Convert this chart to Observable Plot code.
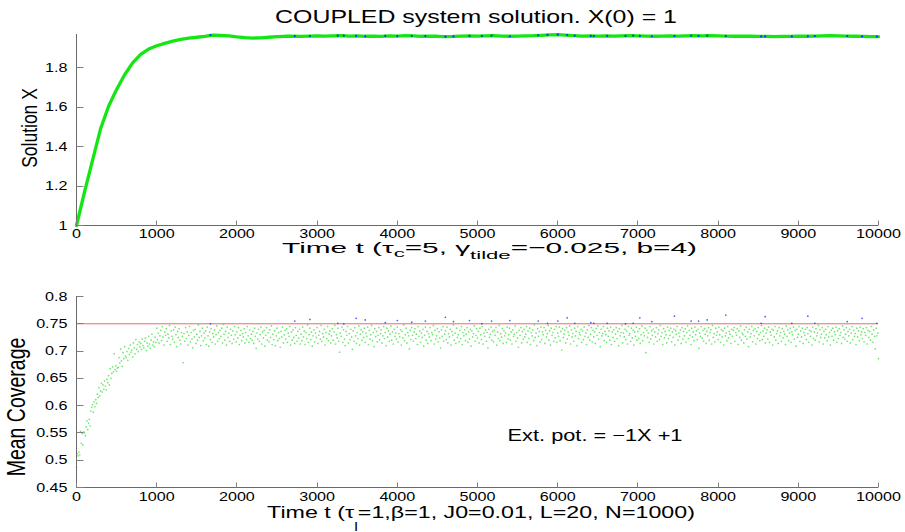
<!DOCTYPE html>
<html><head><meta charset="utf-8">
<script src="https://cdn.jsdelivr.net/npm/d3@7"></script>
<script src="https://cdn.jsdelivr.net/npm/@observablehq/plot@0.6"></script>
<style>body{margin:0;background:#fff}#chart svg{display:block}</style>
</head><body><div id="chart"></div>
<script>
// ---------- data ----------
const xTicks = [0,1000,2000,3000,4000,5000,6000,7000,8000,9000,10000];
const topYTicks = [1,1.2,1.4,1.6,1.8];
const botYTicks = [0.45,0.5,0.55,0.6,0.65,0.7,0.75,0.8];
const tMax = 10000;
const threshold = 0.75;

// solution X(t), sampled every 100 time units
const solutionValues = [
1.000,1.170,1.330,1.490,1.605,1.690,1.765,1.825,1.868,1.895,
1.912,1.924,1.935,1.944,1.951,1.955,1.960,1.966,1.964,1.962,
1.957,1.953,1.951,1.952,1.955,1.958,1.960,1.961,1.959,1.961,
1.962,1.961,1.962,1.963,1.961,1.962,1.960,1.961,1.959,1.962,
1.961,1.963,1.962,1.960,1.961,1.960,1.958,1.959,1.961,1.962,
1.961,1.962,1.963,1.961,1.960,1.961,1.962,1.963,1.965,1.967,
1.968,1.966,1.963,1.961,1.962,1.961,1.962,1.961,1.962,1.963,
1.962,1.961,1.960,1.961,1.962,1.961,1.962,1.963,1.962,1.963,
1.962,1.961,1.960,1.961,1.960,1.959,1.959,1.958,1.959,1.959,
1.960,1.960,1.961,1.962,1.963,1.962,1.961,1.960,1.959,1.958,
1.958];

// mean coverage, evenly sampled from t=0 to t=10000
const coverageValues = [
.487,.512,.508,.515,.51,.553,.531,.549,.528,.552,.55,.545,.561,.572,.556,.568,.575,.563,.59,.597,
.602,.588,.607,.598,.611,.604,.621,.615,.633,.618,.627,.641,.625,.638,.63,.645,.636,.629,.648,.642,
.655,.638,.668,.65,.659,.671,.662,.695,.666,.673,.663,.669,.67,.688,.678,.704,.682,.672,.697,.686,
.708,.691,.688,.699,.683,.705,.694,.711,.698,.702,.689,.715,.706,.695,.721,.703,.712,.699,.717,.708,
.714,.703,.722,.71,.706,.718,.724,.701,.715,.709,.727,.713,.705,.72,.731,.711,.717,.708,.725,.716,
.742,.721,.733,.715,.728,.738,.719,.745,.726,.711,.735,.729,.741,.718,.731,.724,.747,.712,.737,.727,
.722,.739,.716,.744,.73,.708,.736,.725,.741,.72,.713,.734,.727,.679,.732,.718,.743,.723,.735,.711,
.729,.745,.717,.734,.722,.706,.738,.726,.74,.714,.731,.72,.748,.725,.736,.71,.728,.742,.719,.733,
.724,.737,.712,.744,.728,.709,.735,.721,.741,.716,.732,.726,.739,.713,.73,.746,.718,.734,.723,.738,
.727,.742,.715,.749,.731,.72,.736,.711,.744,.725,.733,.718,.74,.729,.714,.737,.722,.745,.73,.717,
.735,.724,.743,.712,.729,.738,.719,.732,.726,.741,.715,.734,.721,.745,.728,.716,.739,.723,.731,.72,
.736,.714,.742,.727,.705,.733,.722,.74,.718,.73,.744,.713,.735,.724,.738,.709,.729,.743,.72,.734,
.717,.739,.725,.746,.712,.731,.721,.737,.71,.728,.742,.719,.734,.723,.707,.736,.726,.744,.715,.73,
.738,.722,.741,.716,.733,.727,.745,.711,.735,.72,.739,.725,.714,.743,.729,.718,.736,.724,.74,.713,
.731,.719,.744,.726,.737,.712,.734,.723,.748,.716,.73,.742,.721,.735,.709,.728,.739,.717,.733,.725,
.743,.714,.729,.736,.722,.747,.718,.732,.726,.74,.711,.734,.723,.745,.719,.731,.737,.715,.728,.741,
.72,.735,.747,.713,.73,.724,.742,.718,.698,.733,.727,.744,.716,.739,.722,.71,.736,.729,.745,.715,
.732,.721,.74,.726,.703,.737,.718,.743,.728,.714,.734,.723,.746,.711,.731,.739,.72,.735,.725,.742,
.716,.733,.727,.744,.712,.738,.722,.73,.747,.719,.734,.708,.741,.726,.736,.717,.729,.743,.721,.732,
.739,.715,.728,.745,.723,.734,.71,.742,.726,.737,.718,.731,.746,.72,.735,.713,.74,.727,.733,.722,
.744,.717,.732,.726,.739,.711,.736,.724,.748,.719,.73,.742,.715,.734,.728,.704,.738,.721,.743,.729,
.718,.735,.741,.723,.731,.712,.745,.727,.737,.716,.733,.725,.74,.709,.729,.744,.72,.736,.714,.732,
.726,.743,.719,.734,.73,.747,.713,.738,.722,.728,.741,.717,.735,.724,.706,.739,.727,.745,.718,.731,
.737,.721,.744,.715,.732,.726,.74,.711,.736,.729,.748,.72,.733,.714,.742,.725,.73,.717,.738,.723,
.745,.712,.734,.728,.739,.719,.731,.743,.716,.735,.722,.74,.709,.737,.726,.732,.746,.718,.729,.741,
.724,.736,.715,.742,.73,.721,.745,.713,.733,.727,.739,.718,.734,.706,.74,.725,.731,.744,.72,.736,
.717,.738,.729,.743,.711,.735,.723,.747,.719,.732,.726,.741,.714,.737,.728,.733,.716,.744,.722,.73,
.742,.72,.735,.713,.739,.727,.731,.746,.718,.734,.724,.707,.738,.729,.743,.715,.736,.722,.74,.726,
.731,.745,.716,.737,.723,.742,.712,.734,.728,.739,.719,.748,.725,.733,.71,.741,.727,.736,.717,.744,
.721,.735,.73,.743,.714,.738,.726,.732,.747,.72,.737,.711,.742,.729,.734,.718,.74,.724,.745,.716,
.733,.727,.744,.719,.736,.702,.741,.725,.731,.738,.715,.743,.722,.735,.729,.746,.713,.739,.726,.732,
.718,.742,.728,.736,.71,.745,.723,.734,.73,.74,.716,.737,.721,.744,.727,.733,.712,.739,.725,.747,
.72,.731,.743,.717,.738,.726,.735,.714,.741,.729,.746,.722,.734,.708,.74,.728,.732,.745,.719,.736,
.73,.716,.742,.727,.737,.72,.744,.712,.735,.725,.739,.718,.731,.743,.723,.736,.71,.741,.728,.734,
.747,.715,.733,.726,.74,.721,.737,.713,.745,.729,.732,.718,.742,.724,.738,.711,.735,.727,.744,.72,
.736,.723,.741,.714,.73,.746,.719,.734,.728,.742,.697,.738,.725,.733,.716,.745,.722,.737,.729,.74,
.713,.735,.726,.743,.718,.732,.739,.721,.747,.727,.734,.712,.741,.724,.736,.73,.715,.744,.723,.738,
.729,.742,.717,.735,.725,.74,.711,.737,.731,.745,.72,.733,.727,.739,.714,.743,.722,.736,.728,.741,
.716,.734,.746,.723,.738,.729,.712,.742,.726,.735,.719,.744,.73,.737,.721,.74,.705,.733,.727,.745,
.724,.738,.718,.741,.731,.714,.736,.728,.743,.72,.734,.739,.713,.747,.725,.732,.717,.742,.729,.735,
.721,.744,.73,.716,.739,.726,.737,.711,.742,.728,.733,.719,.745,.724,.736,.731,.714,.74,.727,.738,
.743,.718,.734,.729,.741,.712,.737,.725,.746,.72,.733,.73,.715,.739,.727,.744,.722,.735,.708,.74,
.726,.732,.745,.717,.738,.728,.741,.713,.736,.723,.743,.73,.719,.734,.747,.721,.737,.727,.742,.715,
.733,.739,.722,.744,.716,.735,.729,.74,.711,.738,.726,.745,.72,.732,.737,.714,.743,.728,.734,.718,
.741,.724,.736,.731,.712,.746,.727,.739,.719,.733,.742,.716,.735,.73,.744,.722,.738,.709,.74,.725,
.731,.745,.718,.737,.726,.742,.714,.734,.729,.74,.721,.743,.732,.716,.738,.727,.736,.711,.744,.723,
.735,.72,.741,.728,.733,.747,.717,.739,.725,.731,.743,.713,.736,.724,.74,.73,.719,.745,.726,.734,
.711,.738,.727,.742,.72,.735,.73,.744,.716,.737,.723,.741,.729,.734,.714,.746,.725,.739,.722,.731,
.743,.718,.736,.728,.74,.715,.733,.745,.721,.738,.727,.732,.712,.742,.726,.737,.719,.744,.73,.735,
.723,.741,.717,.734,.729,.743,.713,.738,.725,.736,.72,.745,.731,.716,.739,.727,.704,.742,.728,.733,
.686];

// samples whose coverage exceeded the threshold (drawn in blue in both panels)
const blueTimes = [1671,2722,2910,3258,3333,3487,3600,3850,4000,4180,4350,4600,4700,4900,5054,5175,5403,5757,5873,6002,6118,6213,6413,6450,6617,6845,6941,7024,7174,7456,7664,7756,7864,8096,8537,8587,8919,9119,9206,9610,9796,9980];
const blueValues = [.750,.755,.758,.751,.750,.760,.757,.752,.756,.753,.755,.762,.754,.756,.750,.755,.756,.755,.751,.755,.761,.751,.752,.751,.751,.750,.751,.761,.754,.764,.755,.755,.757,.766,.751,.763,.751,.764,.751,.754,.760,.751];

const titleText = "COUPLED system solution. X(0) = 1";
const topYLabel = "Solution X";
const botYLabel = "Mean Coverage";
const extPotLabel = "Ext. pot. = \u22121X +1";
const extPotPos = {t: 5375, c: 0.545};

// ---------- build ----------
const solStep = tMax / (solutionValues.length - 1);
const covStep = tMax / (coverageValues.length - 1);
const solution = solutionValues.map((v, i) => ({t: i * solStep, x: v}));
const coverage = coverageValues.map((v, i) => ({t: i * covStep, c: v}));
const blue = blueTimes.map((t, i) => ({t, c: blueValues[i], x: solutionValues[Math.round(t / solStep)]}));

const FONT = "Liberation Sans, Arial, Helvetica, sans-serif";
const GREEN = "#14e614";
const AXIS = "#6a6a6a";
const style = {fontFamily: FONT, fontSize: "12.5px", color: "#000", background: "#fff", overflow: "visible"};
const fmt = d => String(+d.toFixed(2));

const topPlot = Plot.plot({
  width: 905, height: 266, marginLeft: 76, marginRight: 27, marginTop: 34, marginBottom: 41,
  style,
  x: {domain: [0, tMax]},
  y: {domain: [1, 1.969]},
  marks: [
    Plot.axisX(xTicks, {tickSize: 0, tickPadding: 4, tickFormat: fmt, label: null}),
    Plot.axisY(topYTicks, {tickSize: 0, tickPadding: 9, tickFormat: fmt, label: null}),
    Plot.line(solution, {x: "t", y: "x", stroke: GREEN, strokeWidth: 3.3}),
    Plot.dot(blue, {x: "t", y: "x", r: 1.1, fill: "#1030ff", stroke: null}),
    Plot.ruleX([0], {stroke: AXIS}),
    Plot.ruleY([1], {stroke: AXIS})
  ]
});

const botPlot = Plot.plot({
  width: 905, height: 266, marginLeft: 76, marginRight: 27, marginTop: 30, marginBottom: 45,
  style,
  x: {domain: [0, tMax]},
  y: {domain: [0.45, 0.8]},
  marks: [
    Plot.axisX(xTicks, {tickSize: 0, tickPadding: 5, tickFormat: fmt, label: null}),
    Plot.axisY(botYTicks, {tickSize: 0, tickPadding: 9, tickFormat: fmt, label: null}),
    Plot.ruleY([threshold], {stroke: "#ee6a6a", strokeWidth: 1}),
    Plot.dot(coverage, {x: "t", y: "c", r: 0.85, fill: "#2ee02e", fillOpacity: 0.7, stroke: null}),
    Plot.dot(blue, {x: "t", y: "c", r: 0.85, fill: "#2030ff", fillOpacity: 0.8, stroke: null}),
    Plot.text([extPotLabel], {x: () => extPotPos.t, y: () => extPotPos.c, text: d => d, textAnchor: "start", fontSize: 16.5, fill: "#000"}),
    Plot.ruleX([0], {stroke: AXIS}),
    Plot.ruleY([0.45], {stroke: AXIS})
  ]
});

const chart = document.getElementById("chart");
chart.append(topPlot, botPlot);

// inward tick marks
function inwardTicks(plot, xt, yt, lx, ly) {
  const sx = plot.scale("x"), sy = plot.scale("y");
  const g = d3.select(plot).append("g").attr("stroke", "#808080").attr("stroke-width", 1);
  const yb = Math.round(sy.apply(sy.domain[0])) + 0.5;
  const xl = Math.round(sx.apply(sx.domain[0])) + 0.5;
  xt.forEach(t => { const x = Math.round(sx.apply(t)) + 0.5;
    g.append("line").attr("x1", x).attr("x2", x).attr("y1", yb).attr("y2", yb - lx); });
  yt.forEach(v => { const y = Math.round(sy.apply(v)) + 0.5;
    g.append("line").attr("x1", xl).attr("x2", xl + ly).attr("y1", y).attr("y2", y); });
}
inwardTicks(topPlot, xTicks, topYTicks, 5, 7);
inwardTicks(botPlot, xTicks, botYTicks, 5, 7);

// horizontal stretch of text about its anchor
function stretch(el, k) {
  const b = el.getBBox();
  const a = getComputedStyle(el).textAnchor;
  const ax = a === "middle" ? b.x + b.width / 2 : a === "end" ? b.x + b.width : b.x;
  const t = el.getAttribute("transform") || "";
  el.setAttribute("transform", `${t} translate(${ax},0) scale(${k},1) translate(${-ax},0)`);
}
[topPlot, botPlot].forEach(p => d3.select(p)
  .selectAll('g[aria-label="x-axis tick label"] text, g[aria-label="y-axis tick label"] text')
  .each(function() { stretch(this, 1.29); }));
d3.select(botPlot).selectAll('g[aria-label="text"] text').each(function() {
  const w = this.getBBox().width; stretch(this, 175 / w);
});

// free text placed to a target span
function spanText(svg, parts, size, x0, x1, y) {
  const t = d3.select(svg).append("text").attr("font-family", FONT).attr("font-size", size).attr("fill", "#000");
  let shift = 0;
  parts.forEach(p => {
    const s = t.append("tspan").text(p.text);
    const target = p.sub || 0;
    if (target !== shift) { s.attr("dy", target - shift); shift = target; }
    if (p.sub) s.attr("font-size", p.size || 12);
  });
  const b = t.node().getBBox();
  t.attr("transform", `translate(${x0},${y}) scale(${(x1 - x0) / b.width},1) translate(${-b.x},0)`);
}
spanText(topPlot, [{text: titleText}], 18, 275, 677, 23);
spanText(topPlot, [
  {text: "Time t (\u03C4"}, {text: "c", sub: 4, size: 11.5}, {text: "=5, \u03B3"}, {text: "tilde", sub: 6, size: 11.5}, {text: "=\u22120.025, b=4)"}
], 15.5, 282, 697, 253);
spanText(botPlot, [
  {text: "Time t (\u03C4"}, {text: "l", sub: 13}, {text: "=1,\u03B2=1, J0=0.01, L=20, N=1000)"}
], 17, 267, 695, 252);

function yLabel(svg, text, size, cx, cy, k) {
  d3.select(svg).append("g").attr("transform", `translate(${cx},${cy}) scale(${k},1)`)
    .append("text").attr("transform", "rotate(-90)").attr("text-anchor", "middle")
    .attr("font-family", FONT).attr("font-size", size).attr("fill", "#000").text(text);
}
yLabel(topPlot, topYLabel, 17.5, 37, 128, 1.3);
yLabel(botPlot, botYLabel, 19.5, 25, 141, 1.3);
</script></body></html>
